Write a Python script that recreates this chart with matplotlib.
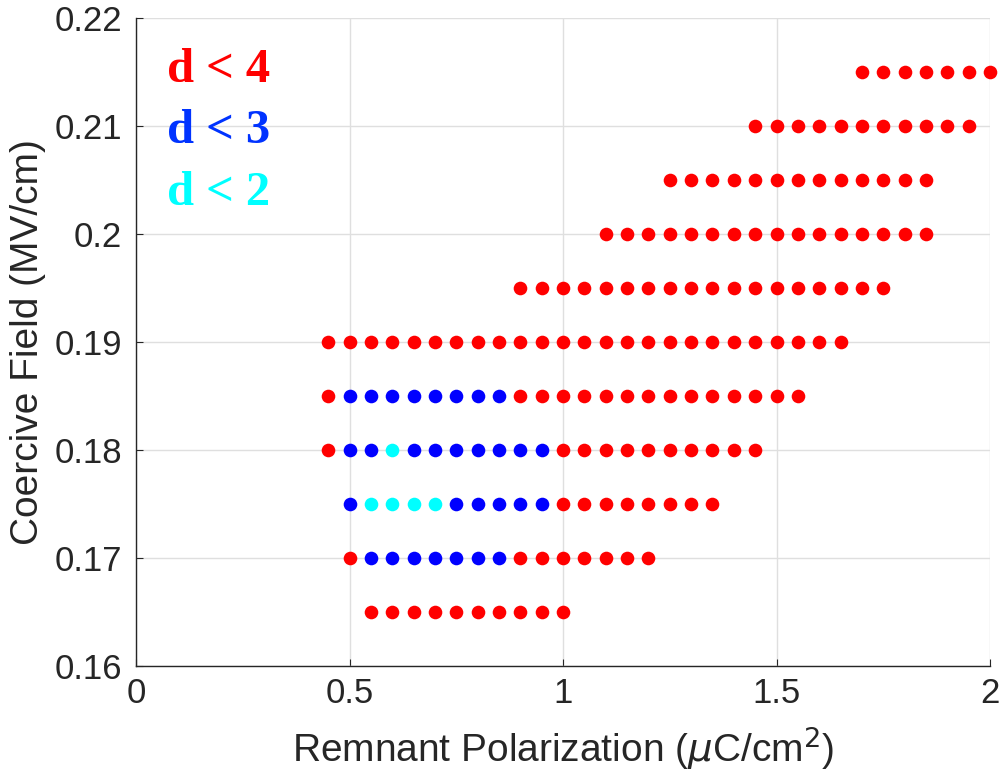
import matplotlib
matplotlib.use("Agg")
import matplotlib.pyplot as plt

# Points with d < 4 (red)
red_x = [1.70, 1.75, 1.80, 1.85, 1.90, 1.95, 2.00,
         1.45, 1.50, 1.55, 1.60, 1.65, 1.70, 1.75, 1.80, 1.85, 1.90, 1.95,
         1.25, 1.30, 1.35, 1.40, 1.45, 1.50, 1.55, 1.60, 1.65, 1.70, 1.75, 1.80, 1.85,
         1.10, 1.15, 1.20, 1.25, 1.30, 1.35, 1.40, 1.45, 1.50, 1.55, 1.60, 1.65, 1.70, 1.75, 1.80, 1.85,
         0.90, 0.95, 1.00, 1.05, 1.10, 1.15, 1.20, 1.25, 1.30, 1.35, 1.40, 1.45, 1.50, 1.55, 1.60, 1.65, 1.70, 1.75,
         0.45, 0.50, 0.55, 0.60, 0.65, 0.70, 0.75, 0.80, 0.85, 0.90, 0.95, 1.00, 1.05, 1.10, 1.15, 1.20, 1.25,
         1.30, 1.35, 1.40, 1.45, 1.50, 1.55, 1.60, 1.65,
         0.45, 0.90, 0.95, 1.00, 1.05, 1.10, 1.15, 1.20, 1.25, 1.30, 1.35, 1.40, 1.45, 1.50, 1.55,
         0.45, 1.00, 1.05, 1.10, 1.15, 1.20, 1.25, 1.30, 1.35, 1.40, 1.45,
         1.00, 1.05, 1.10, 1.15, 1.20, 1.25, 1.30, 1.35,
         0.50, 0.90, 0.95, 1.00, 1.05, 1.10, 1.15, 1.20,
         0.55, 0.60, 0.65, 0.70, 0.75, 0.80, 0.85, 0.90, 0.95, 1.00]
red_y = ([0.215] * 7 + [0.210] * 11 + [0.205] * 13 + [0.200] * 16 + [0.195] * 18
         + [0.190] * 25 + [0.185] * 15 + [0.180] * 11 + [0.175] * 8 + [0.170] * 8
         + [0.165] * 10)

# Points with d < 3 (blue)
blue_x = [0.50, 0.55, 0.60, 0.65, 0.70, 0.75, 0.80, 0.85,
          0.50, 0.55, 0.65, 0.70, 0.75, 0.80, 0.85, 0.90, 0.95,
          0.50, 0.75, 0.80, 0.85, 0.90, 0.95,
          0.55, 0.60, 0.65, 0.70, 0.75, 0.80, 0.85]
blue_y = [0.185] * 8 + [0.180] * 9 + [0.175] * 6 + [0.170] * 7

# Points with d < 2 (cyan)
cyan_x = [0.60, 0.55, 0.60, 0.65, 0.70]
cyan_y = [0.180, 0.175, 0.175, 0.175, 0.175]

x_ticks = [0, 0.5, 1, 1.5, 2]
x_tick_labels = ["0", "0.5", "1", "1.5", "2"]
y_ticks = [0.16, 0.17, 0.18, 0.19, 0.20, 0.21, 0.22]
y_tick_labels = ["0.16", "0.17", "0.18", "0.19", "0.2", "0.21", "0.22"]

plt.rcParams["font.family"] = ["Liberation Sans", "DejaVu Sans"]

fig = plt.figure(figsize=(10.01, 7.83), dpi=100)
ax = fig.add_axes([136 / 1001, 1 - 666 / 783, (990 - 136) / 1001, (666 - 18) / 783])

for xs, ys, c in [(red_x, red_y, "#ff0000"), (blue_x, blue_y, "#0000ff"),
                  (cyan_x, cyan_y, "#00ffff")]:
    ax.plot(xs, ys, "o", color=c, markersize=9.8, markeredgewidth=0,
            clip_on=False, zorder=3)

ax.set_xlim(0, 2)
ax.set_ylim(0.16, 0.22)
ax.set_xticks(x_ticks)
ax.set_xticklabels(x_tick_labels)
ax.set_yticks(y_ticks)
ax.set_yticklabels(y_tick_labels)
ax.grid(True, color="#dfdfdf", linewidth=1.0, zorder=0)
ax.set_axisbelow(True)

for side in ("top", "right"):
    ax.spines[side].set_visible(False)
for side in ("left", "bottom"):
    ax.spines[side].set_color("#262626")
    ax.spines[side].set_linewidth(1.0)

ax.tick_params(direction="in", length=5, width=0.8, color="#262626",
               labelsize=25, labelcolor="#262626")
ax.tick_params(axis="y", pad=10)
ax.tick_params(axis="x", pad=8)

ax.set_xlabel(r"Remnant Polarization ($\mu$C/cm$^2$)", fontsize=28,
              color="#262626", labelpad=10)
ax.set_ylabel("Coercive Field (MV/cm)", fontsize=28, color="#262626",
              labelpad=6)

legend_items = [("d < 4", "#ff0000", 0.21407), ("d < 3", "#0033ff", 0.20843),
                ("d < 2", "#00ffff", 0.20269)]
for txt, c, yy in legend_items:
    ax.text(0.073, yy, txt, color=c, fontsize=35, fontweight="bold",
            family=["Liberation Serif", "DejaVu Serif"], va="baseline", ha="left")

fig.savefig("out.png", dpi=100)
